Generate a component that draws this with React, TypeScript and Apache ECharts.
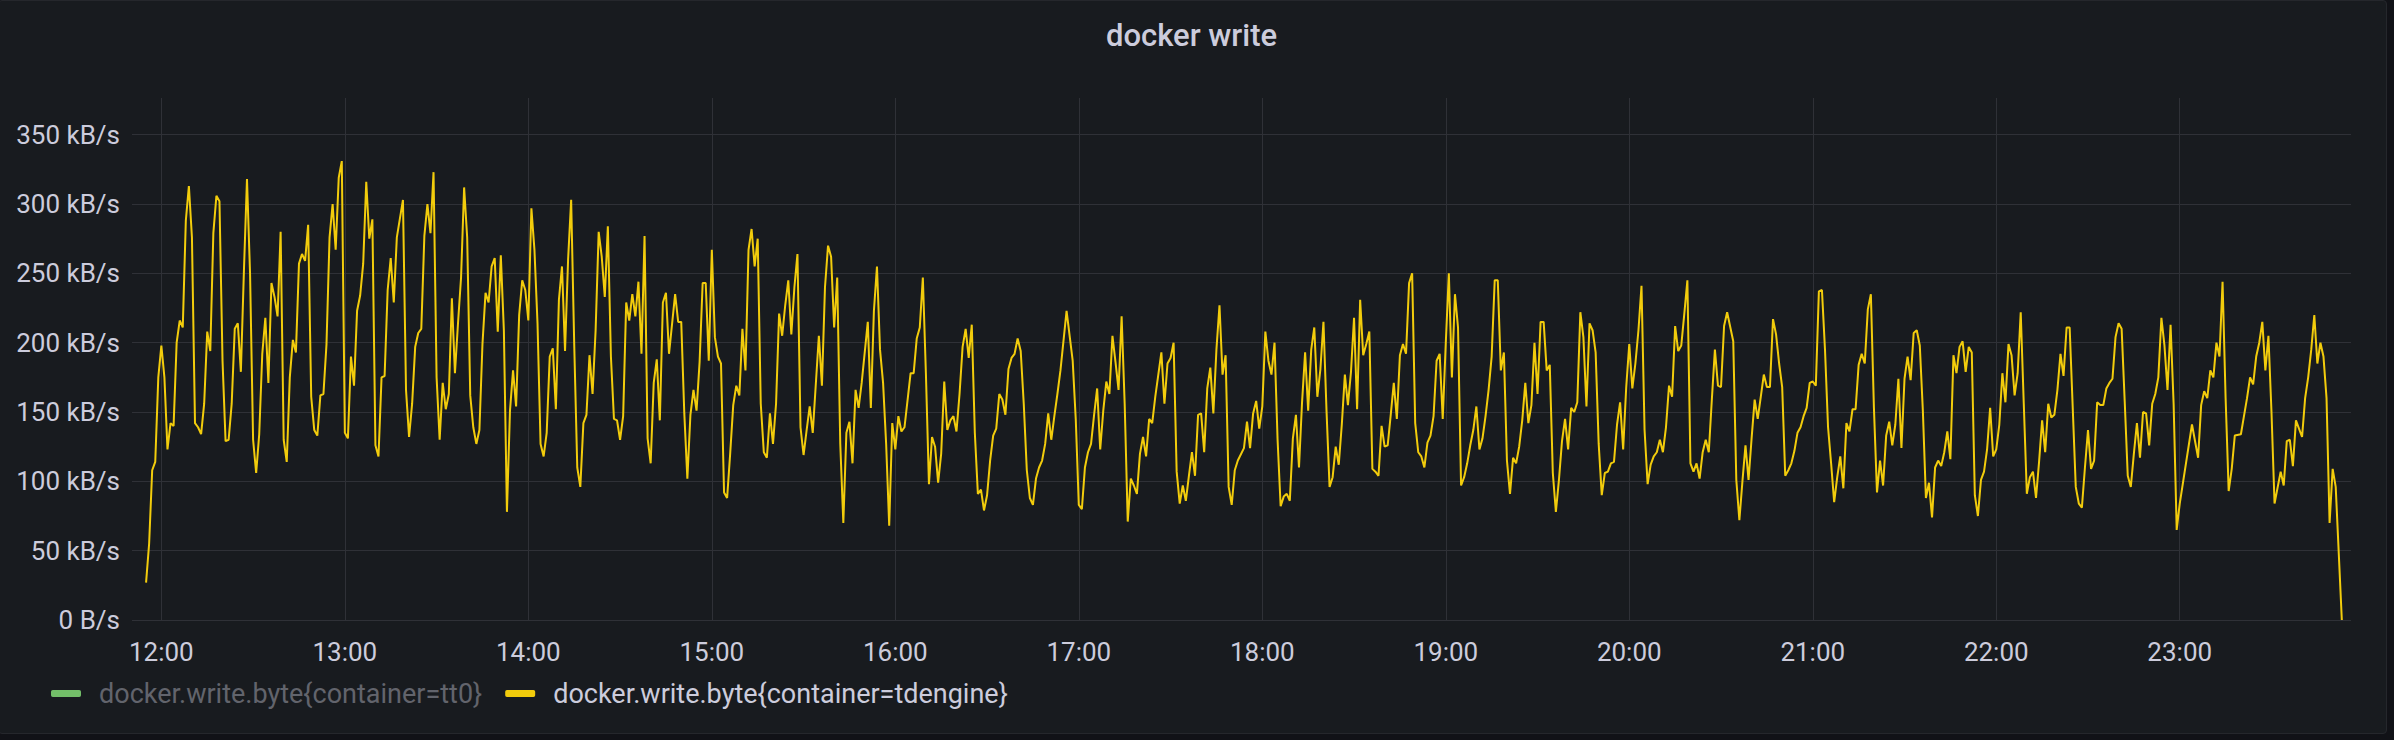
import React, { useEffect, useRef } from "react";
import * as echarts from "echarts";

const TITLE = "docker write";
const SERIES_TT0 = "docker.write.byte{container=tt0}";
const SERIES_TDENGINE = "docker.write.byte{container=tdengine}";

// x tick labels are the whole hours 12:00 .. 23:00
const hourTicks = [12, 13, 14, 15, 16, 17, 18, 19, 20, 21, 22, 23];
// y ticks in kB/s
const yTicks = [0, 50, 100, 150, 200, 250, 300, 350];

// visible time window, minutes relative to 12:00
const windowStartMin = -9.6;
const windowEndMin = 716;

// tt0 series: nothing drawn
const tt0Write: [number, number][] = [];

// tdengine series: [minutes after 12:00, kB/s]
const tdengineWrite: [number, number][] = [
  [-5, 27], [-4, 55], [-3, 108], [-2, 114], [-1, 175], [0, 198], [1, 175], [2, 123], [3, 142], [4, 140],
  [5, 200], [6, 216], [7, 211], [8, 288], [9, 313], [10, 276], [11, 142], [12, 139], [13, 134], [14, 156],
  [15, 208], [16, 194], [17, 279], [18, 306], [19, 302], [20, 187], [21, 129], [22, 130], [23, 156], [24, 210],
  [25, 214], [26, 179], [27, 252], [28, 318], [29, 250], [30, 130], [31, 106], [32, 134], [33, 192], [34, 218],
  [35, 171], [36, 243], [37, 233], [38, 219], [39, 280], [40, 130], [41, 114], [42, 175], [43, 202], [44, 193],
  [45, 257], [46, 264], [47, 259], [48, 285], [49, 161], [50, 137], [51, 133], [52, 162], [53, 163], [54, 199],
  [55, 276], [56, 300], [57, 267], [58, 319], [59, 331], [60, 135], [61, 131], [62, 190], [63, 169], [64, 223],
  [65, 234], [66, 257], [67, 316], [68, 275], [69, 289], [70, 126], [71, 118], [72, 175], [73, 176], [74, 238],
  [75, 261], [76, 229], [77, 276], [79, 303], [80, 166], [81, 132], [82, 156], [83, 197], [84, 207], [85, 210],
  [86, 277], [87, 300], [88, 279], [89, 323], [90, 175], [91, 130], [92, 171], [93, 152], [94, 163], [95, 232],
  [96, 178], [97, 214], [98, 247], [99, 312], [100, 276], [101, 162], [102, 139], [103, 127], [104, 137],
  [105, 199], [106, 236], [107, 229], [108, 255], [109, 261], [110, 208], [111, 263], [112, 209], [113, 78], [114, 151],
  [115, 180], [116, 154], [117, 220], [118, 245], [119, 238], [120, 216], [121, 297], [122, 267], [123, 214], [124, 127],
  [125, 118], [126, 135], [127, 190], [128, 196], [129, 152], [130, 231], [131, 255], [132, 194], [133, 260], [134, 303],
  [135, 199], [136, 110], [137, 96], [138, 142], [139, 148], [140, 191], [141, 163], [142, 209], [143, 280], [144, 262],
  [145, 233], [146, 284], [147, 190], [148, 145], [149, 144], [150, 130], [151, 147], [152, 229], [153, 216], [154, 235],
  [155, 219], [156, 244], [157, 192], [158, 277], [159, 131], [160, 113], [161, 171], [162, 188], [163, 144], [164, 229],
  [165, 236], [166, 192], [168, 235], [169, 215], [170, 215], [171, 149], [172, 102], [173, 148], [174, 166], [175, 151],
  [176, 186], [177, 243], [178, 243], [179, 187], [180, 267], [181, 204], [182, 190], [183, 185], [184, 92], [185, 88],
  [186, 120], [187, 155], [188, 169], [189, 162], [190, 210], [191, 180], [192, 267], [193, 282], [194, 255], [195, 275],
  [196, 156], [197, 121], [198, 117], [199, 149], [200, 127], [201, 156], [202, 221], [203, 205], [204, 227], [205, 245],
  [206, 206], [207, 240], [208, 264], [209, 139], [210, 119], [211, 137], [212, 154], [213, 135],
  [214, 170], [215, 205], [216, 169], [217, 240], [218, 270], [219, 262], [220, 211], [221, 247], [222, 127], [223, 70],
  [224, 135], [225, 143], [226, 113], [227, 166], [228, 153], [229, 171], [231, 215], [232, 153], [233, 223], [234, 255],
  [235, 195], [236, 171], [237, 127], [238, 68], [239, 142], [240, 123], [241, 147], [242, 136], [243, 139], [245, 178],
  [246, 178], [247, 203], [248, 211], [249, 247], [250, 178], [251, 98], [252, 132], [253, 125], [254, 99], [255, 120],
  [256, 172], [257, 137], [258, 144], [259, 147], [260, 136], [261, 163], [262, 197], [263, 210], [264, 189], [265, 213],
  [266, 135], [267, 91], [268, 94], [269, 79], [270, 90], [271, 115], [272, 133], [273, 138], [274, 163], [275, 159],
  [276, 148], [277, 181], [278, 189], [279, 192], [280, 203], [281, 194], [282, 156], [283, 108], [284, 88], [285, 83],
  [286, 102], [287, 110], [288, 115], [289, 127], [290, 149], [291, 130], [292, 147], [293, 163], [294, 180], [296, 223],
  [298, 187], [299, 145], [300, 83], [301, 80], [302, 110], [303, 121], [304, 127], [305, 148], [306, 167], [307, 123],
  [308, 151], [309, 172], [310, 163], [311, 205], [312, 186], [313, 166], [314, 219], [315, 156], [316, 71], [317, 102],
  [318, 97], [319, 91], [320, 120], [321, 132], [322, 118], [323, 145], [324, 142],
  [325, 161], [327, 193], [328, 156], [329, 185], [330, 189], [331, 200], [332, 107], [333, 84], [334, 97], [335, 86],
  [336, 104], [337, 121], [338, 104], [339, 148], [340, 149], [341, 121], [342, 167], [343, 182], [344, 149], [345, 195],
  [346, 227], [347, 177], [348, 191], [349, 96], [350, 83], [351, 108], [352, 115], [354, 124], [355, 143], [356, 124],
  [357, 149], [358, 158], [359, 138], [360, 154], [361, 208], [362, 187], [363, 177], [364, 200], [365, 130], [366, 82],
  [367, 89], [368, 91], [369, 86], [370, 131], [371, 148], [372, 110], [373, 157], [374, 193], [375, 151], [376, 195],
  [377, 211], [378, 161], [379, 181], [380, 215], [381, 151], [382, 96], [383, 103], [384, 125], [385, 112], [386, 141],
  [387, 177], [388, 155], [389, 179], [390, 218], [391, 152], [392, 231], [393, 191], [394, 199], [395, 208], [396, 109],
  [397, 107], [398, 104], [399, 140], [400, 125], [401, 126], [402, 148], [403, 171], [404, 145], [405, 191], [406, 199],
  [407, 192], [408, 243], [409, 250], [410, 142], [411, 121], [412, 118], [413, 110], [414, 128], [415, 133], [416, 147],
  [417, 187], [418, 192], [419, 145], [420, 200], [421, 250], [422, 175], [423, 235], [424, 211], [425, 97], [426, 103],
  [427, 113], [428, 126], [429, 137], [430, 154], [431, 123], [432, 131], [433, 147], [434, 166],
  [435, 190], [436, 245], [437, 245], [438, 180], [439, 193], [440, 115], [441, 91], [442, 117], [443, 113], [444, 125],
  [445, 144], [446, 171], [447, 142], [448, 155], [449, 200], [450, 163], [451, 215], [452, 215], [453, 180], [454, 184],
  [455, 106], [456, 78], [457, 101], [458, 129], [459, 145], [460, 123], [461, 153], [462, 150], [463, 157], [464, 222],
  [465, 204], [466, 154], [467, 214], [468, 209], [469, 193], [470, 127], [471, 90], [472, 106], [473, 107], [474, 113],
  [475, 114], [476, 141], [477, 157], [478, 123], [479, 168], [480, 199], [481, 167], [482, 185], [483, 209], [484, 241],
  [485, 137], [486, 98], [487, 112], [488, 118], [489, 121], [490, 130], [491, 121], [492, 139], [493, 169], [494, 161],
  [495, 212], [496, 194], [497, 198], [498, 221], [499, 245], [500, 113], [501, 107], [502, 113], [503, 102], [504, 121],
  [505, 130], [506, 121], [507, 159], [508, 195], [509, 169], [510, 168], [511, 212], [512, 222], [514, 201], [515, 101],
  [516, 72], [517, 100], [518, 126], [519, 101], [520, 131], [521, 159], [522, 145], [523, 161], [524, 177], [525, 168],
  [526, 168], [527, 217], [528, 206], [529, 185], [530, 168], [531, 104], [532, 108], [533, 113], [534, 122], [535, 135],
  [536, 139], [537, 147], [538, 153], [539, 171], [540, 172], [541, 169], [542, 237], [543, 238], [544, 195], [545, 139],
  [546, 113], [547, 85], [548, 103], [549, 118],
  [550, 95], [551, 142], [552, 136], [553, 152], [554, 152], [555, 184], [556, 192], [557, 185], [558, 224], [559, 235],
  [560, 153], [561, 92], [562, 115], [563, 97], [564, 133], [565, 143], [566, 126], [567, 141], [568, 174], [569, 124],
  [570, 174], [571, 190], [572, 173], [573, 207], [574, 209], [575, 198], [576, 151], [577, 88], [578, 99], [579, 74],
  [580, 110], [581, 115], [582, 111], [583, 121], [584, 136], [585, 116], [586, 191], [587, 178], [588, 197], [589, 201],
  [590, 179], [591, 197], [592, 193], [593, 90], [594, 75], [595, 101], [596, 107], [597, 123], [598, 153], [599, 118],
  [600, 123], [601, 141], [602, 178], [603, 157], [604, 199], [605, 191], [606, 162], [607, 178], [608, 222], [609, 156],
  [610, 91], [611, 103], [612, 107], [613, 88], [614, 114], [615, 144], [616, 121], [617, 156], [618, 146], [619, 148],
  [620, 166], [621, 192], [622, 176], [623, 211], [624, 211], [626, 96], [627, 84], [628, 81], [629, 110], [630, 137],
  [631, 109], [632, 115], [633, 157], [634, 155], [635, 155], [636, 167], [637, 171], [638, 174], [639, 204], [640, 214],
  [641, 210], [642, 158], [643, 104], [644, 96], [645, 120], [646, 142], [647, 117], [648, 150], [649, 149], [650, 126],
  [651, 156], [652, 163], [653, 175], [654, 218], [655, 198], [656, 166], [657, 213], [658, 156], [659, 65], [660, 84],
  [664, 141], [666, 117], [667, 155], [668, 165], [669, 160], [670, 180], [671, 175], [672, 200], [673, 190], [674, 244],
  [675, 160], [676, 93], [677, 109], [678, 133], [680, 134], [681, 147], [682, 160], [683, 175], [684, 170], [685, 190],
  [686, 200], [687, 215], [688, 180], [689, 205], [690, 150], [691, 84], [693, 107], [694, 97], [695, 129], [696, 130],
  [697, 111], [698, 144], [700, 132], [701, 160], [702, 175], [703, 195], [704, 220], [705, 185], [706, 200], [707, 190],
  [708, 160], [709, 70], [710, 109], [711, 96], [713, 0],
];

const TEXT = "#ccccdc";
const GRID_LINE = "#2f3137";
const FONT = "Roboto";

const pad = (n: number) => (n < 10 ? "0" + n : "" + n);
// minutes after 12:00 -> "HH:MM"
const minuteLabel = (m: number) => {
  const total = 12 * 60 + Math.round(m);
  return pad(Math.floor(total / 60) % 24) + ":" + pad(total % 60);
};

// plot area (pixels)
const GRID_TOP = 107;
const GRID_BOTTOM = 120;
const TICK_BELOW = 9;

export default function App() {
  const ref = useRef<HTMLDivElement>(null);

  useEffect(() => {
    document.body.style.margin = "0";
    document.body.style.overflow = "hidden";
    if (!ref.current) return;
    const chart = echarts.init(ref.current, null, { renderer: "svg" });
    const hourValues = hourTicks.map((h) => (h - 12) * 60);
    const plotHeight = 740 - GRID_TOP - GRID_BOTTOM;

    const option: any = {
      animation: false,
      backgroundColor: "transparent",
      textStyle: { fontFamily: FONT },
      graphic: [
        {
          type: "text",
          x: 1191.5,
          y: 35,
          style: {
            text: TITLE,
            fill: TEXT,
            font: `500 31px ${FONT}`,
            textAlign: "center",
            textVerticalAlign: "middle",
          },
        },
      ],
      legend: {
        left: 51,
        top: 680,
        padding: 0,
        itemWidth: 30,
        itemHeight: 7,
        itemGap: 23,
        icon: "roundRect",
        selectedMode: false,
        textStyle: {
          color: TEXT,
          fontSize: 27,
          fontFamily: FONT,
          padding: [0, 0, 0, 13],
        },
        data: [
          { name: SERIES_TT0, textStyle: { color: "#62646c" } },
          { name: SERIES_TDENGINE },
        ],
      },
      grid: {
        left: 132,
        right: 43,
        top: GRID_TOP,
        bottom: GRID_BOTTOM,
        containLabel: false,
        outerBoundsMode: "none",
      },
      xAxis: {
        type: "value",
        min: windowStartMin,
        max: windowEndMin,
        offset: TICK_BELOW,
        axisLine: { show: false },
        axisTick: {
          show: true,
          inside: true,
          length: plotHeight + TICK_BELOW,
          customValues: hourValues,
          lineStyle: { color: GRID_LINE, width: 1 },
        },
        axisLabel: {
          customValues: hourValues,
          color: TEXT,
          fontSize: 26,
          fontFamily: FONT,
          margin: 10,
          formatter: (v: number) => minuteLabel(v),
        },
        splitLine: { show: false },
      },
      yAxis: {
        type: "value",
        min: yTicks[0],
        max: 370,
        interval: 50,
        axisLine: { show: false },
        axisTick: { show: false },
        axisLabel: {
          color: TEXT,
          fontSize: 26,
          fontFamily: FONT,
          margin: 12,
          showMaxLabel: false,
          formatter: (v: number) => {
            if (yTicks.indexOf(v) < 0) return "";
            return v === 0 ? "0 B/s" : `${v} kB/s`;
          },
        },
        splitLine: {
          show: true,
          showMaxLine: false,
          lineStyle: { color: GRID_LINE, width: 1 },
        },
      },
      series: [
        {
          name: SERIES_TT0,
          type: "line",
          color: "#73BF69",
          showSymbol: false,
          data: tt0Write,
        },
        {
          name: SERIES_TDENGINE,
          type: "line",
          color: "#F2CC0C",
          showSymbol: false,
          symbol: "none",
          lineStyle: { width: 2, color: "#F2CC0C" },
          data: tdengineWrite,
        },
      ],
    };

    chart.setOption(option);
    return () => chart.dispose();
  }, []);

  return (
    <div
      style={{
        position: "fixed",
        left: 0,
        top: 0,
        width: 2394,
        height: 740,
        background: "#111217",
        overflow: "hidden",
      }}
    >
      <div
        style={{
          position: "absolute",
          left: -2,
          top: 0,
          width: 2389,
          height: 734,
          background: "#181b1f",
          border: "1px solid #25272c",
          borderRadius: 4,
          boxSizing: "border-box",
        }}
      />
      <div
        ref={ref}
        style={{ position: "absolute", left: 0, top: 0, width: 2394, height: 740 }}
      />
    </div>
  );
}
